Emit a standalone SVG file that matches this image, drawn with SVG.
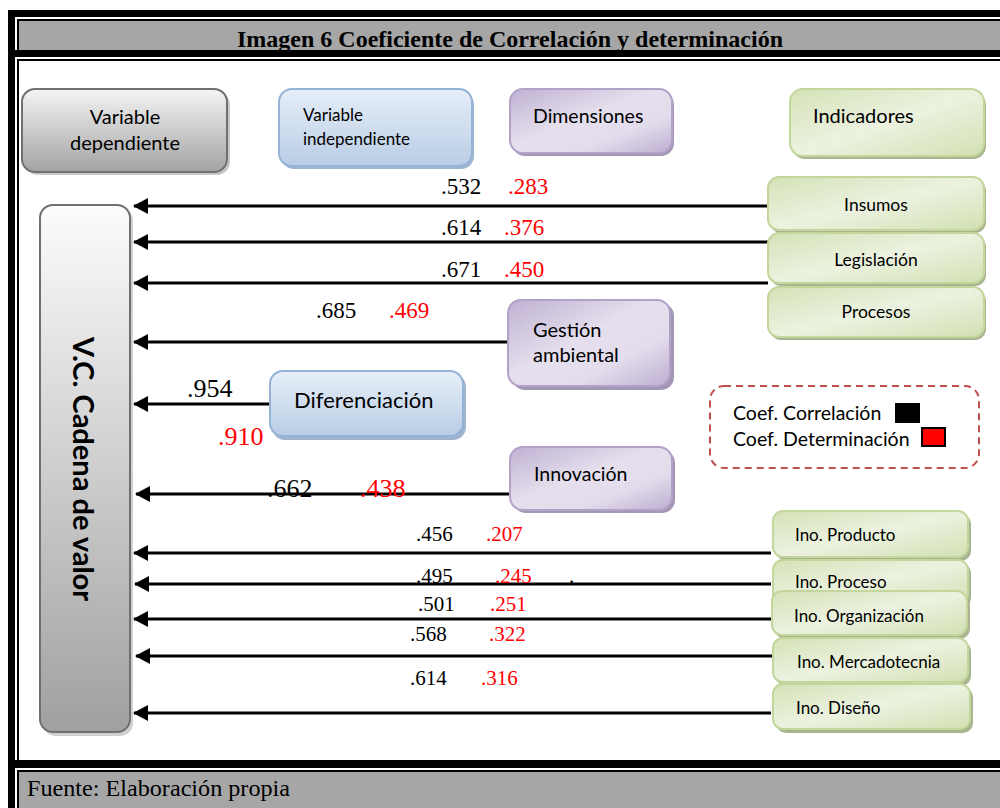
<svg xmlns="http://www.w3.org/2000/svg" width="1000" height="808" viewBox="0 0 1000 808">
<defs>
<linearGradient id="gGray" x1="0" y1="0" x2="0" y2="1"><stop offset="0" stop-color="#f4f4f4"/><stop offset="1" stop-color="#a3a3a3"/></linearGradient>
<linearGradient id="gGrayV" x1="0" y1="0" x2="0" y2="1"><stop offset="0" stop-color="#fcfcfc"/><stop offset="1" stop-color="#a0a0a0"/></linearGradient>
<linearGradient id="gBlue" x1="0" y1="0" x2="0" y2="1"><stop offset="0" stop-color="#e6eef8"/><stop offset="1" stop-color="#b9cde5"/></linearGradient>
<linearGradient id="gPurple" x1="0" y1="0" x2="1" y2="1"><stop offset="0" stop-color="#bfb1d3"/><stop offset="0.45" stop-color="#e5dfed"/><stop offset="0.7" stop-color="#e3dcec"/><stop offset="1" stop-color="#bcaed1"/></linearGradient>
<linearGradient id="gGreen" x1="0" y1="0" x2="1" y2="1"><stop offset="0" stop-color="#d4e2b6"/><stop offset="0.5" stop-color="#ecf2e0"/><stop offset="1" stop-color="#d2e0b2"/></linearGradient>
<marker id="arr" markerWidth="15" markerHeight="16" refX="14" refY="8" orient="auto" markerUnits="userSpaceOnUse" viewBox="0 0 15 16">
<path d="M0,0 L15,8 L0,16 Z" fill="#000"/>
</marker>
</defs>
<style>
.lbl{font-family:Lato,"Open Sans",sans-serif;fill:#000}
.num{font-family:"Liberation Serif","Times New Roman",serif;fill:#000}
.red{fill:#ff0000}
.conn line{stroke:#000;stroke-width:3}
</style>
<rect width="1000" height="808" fill="#fff"/>
<g id="frame">
<rect x="8" y="10" width="1000" height="800" fill="#000"/>
<rect x="15" y="17" width="990" height="800" fill="#fff"/>
<rect x="17" y="19" width="990" height="31" fill="#000"/>
<rect x="19" y="21" width="990" height="29" fill="#a6a6a6"/>
<rect x="15" y="50" width="990" height="7" fill="#000"/>
<rect x="17" y="59" width="990" height="701" fill="#000"/>
<rect x="19" y="61" width="990" height="699" fill="#fff"/>
<rect x="15" y="760" width="990" height="8" fill="#000"/>
<rect x="17" y="770" width="990" height="40" fill="#000"/>
<rect x="19" y="772" width="990" height="40" fill="#a6a6a6"/>
<text x="237" y="47" font-family="Liberation Serif,serif" font-weight="bold" font-size="24" textLength="546" lengthAdjust="spacingAndGlyphs">Imagen 6 Coeficiente de Correlación y determinación</text>
<text x="27" y="796" font-family="Liberation Serif,serif" font-size="23" textLength="263" lengthAdjust="spacingAndGlyphs">Fuente: Elaboración propia</text>
</g>

<g id="n-vardep">
<rect x="25" y="92" width="205" height="83" rx="13" fill="#c8c8c8"/>
<rect x="22" y="89" width="205" height="83" rx="13" fill="url(#gGray)" stroke="#707070" stroke-width="2"/>
<text class="lbl" x="125" y="124" text-anchor="middle" font-size="20">Variable</text>
<text class="lbl" x="125" y="150" text-anchor="middle" font-size="20">dependiente</text>
</g>
<g id="n-varindep">
<rect x="281" y="92" width="193" height="77" rx="13" fill="#9fb4ce"/>
<rect x="279" y="89" width="193" height="77" rx="13" fill="url(#gBlue)" stroke="#95b3d7" stroke-width="2"/>
<text class="lbl" x="303" y="121" font-size="17">Variable</text>
<text class="lbl" x="303" y="145" font-size="17">independiente</text>
</g>
<g id="n-dimensiones">
<rect x="512" y="92" width="162" height="64" rx="13" fill="#a397b5"/>
<rect x="510" y="89" width="162" height="64" rx="13" fill="url(#gPurple)" stroke="#b3a2c7" stroke-width="2"/>
<text class="lbl" x="533" y="123" font-size="19.5">Dimensiones</text>
</g>
<g id="n-indicadores">
<rect x="792" y="92" width="194" height="67" rx="13" fill="#a9b591"/>
<rect x="790" y="89" width="194" height="67" rx="13" fill="url(#gGreen)" stroke="#c3d69b" stroke-width="2"/>
<text class="lbl" x="813" y="123" font-size="20">Indicadores</text>
</g>

<g id="n-vc">
<rect x="43" y="208" width="90" height="528" rx="13" fill="#d0d0d0"/>
<rect x="40" y="205" width="90" height="527" rx="13" fill="url(#gGrayV)" stroke="#707070" stroke-width="2"/>
<text class="lbl" transform="translate(73,469) rotate(90)" text-anchor="middle" font-size="29" font-weight="bold">V.C. Cadena de valor</text>
</g>

<g id="conn" class="conn">
<line x1="770" y1="206" x2="134" y2="206" marker-end="url(#arr)"/>
<line x1="773" y1="242" x2="134" y2="242" marker-end="url(#arr)"/>
<line x1="768" y1="283" x2="134" y2="283" marker-end="url(#arr)"/>
<line x1="510" y1="342" x2="134" y2="342" marker-end="url(#arr)"/>
<line x1="272" y1="404" x2="134" y2="404" marker-end="url(#arr)"/>
<line x1="510" y1="494" x2="136" y2="494" marker-end="url(#arr)"/>
<line x1="771" y1="553" x2="134" y2="553" marker-end="url(#arr)"/>
<line x1="771" y1="584" x2="135" y2="584" marker-end="url(#arr)"/>
<line x1="771" y1="619" x2="134" y2="619" marker-end="url(#arr)"/>
<line x1="773" y1="656" x2="136" y2="656" marker-end="url(#arr)"/>
<line x1="771" y1="713" x2="134" y2="713" marker-end="url(#arr)"/>
</g>

<g id="n-insumos">
<rect x="770" y="180" width="216" height="53" rx="11" fill="#a9b591"/>
<rect x="768" y="177" width="216" height="53" rx="11" fill="url(#gGreen)" stroke="#c3d69b" stroke-width="2"/>
<text class="lbl" x="876" y="211" text-anchor="middle" font-size="17.5">Insumos</text>
</g>
<g id="n-legislacion">
<rect x="770" y="236" width="216" height="50" rx="11" fill="#a9b591"/>
<rect x="768" y="233" width="216" height="50" rx="11" fill="url(#gGreen)" stroke="#c3d69b" stroke-width="2"/>
<text class="lbl" x="876" y="266" text-anchor="middle" font-size="17.5">Legislación</text>
</g>
<g id="n-procesos">
<rect x="770" y="290" width="216" height="50" rx="11" fill="#a9b591"/>
<rect x="768" y="287" width="216" height="50" rx="11" fill="url(#gGreen)" stroke="#c3d69b" stroke-width="2"/>
<text class="lbl" x="876" y="318" text-anchor="middle" font-size="17.5">Procesos</text>
</g>

<g id="n-gestion">
<rect x="512" y="303" width="162" height="87" rx="13" fill="#a397b5"/>
<rect x="508" y="300" width="162" height="86" rx="13" fill="url(#gPurple)" stroke="#b3a2c7" stroke-width="2"/>
<text class="lbl" x="533" y="337" font-size="20">Gestión</text>
<text class="lbl" x="533" y="362" font-size="20">ambiental</text>
</g>
<g id="n-diferenciacion">
<rect x="272" y="374" width="194" height="66" rx="13" fill="#9fb4ce"/>
<rect x="270" y="371" width="193" height="65" rx="13" fill="url(#gBlue)" stroke="#95b3d7" stroke-width="2"/>
<text class="lbl" x="294" y="408" font-size="22">Diferenciación</text>
</g>
<g id="n-innovacion">
<rect x="513" y="450" width="162" height="63" rx="13" fill="#a397b5"/>
<rect x="510" y="447" width="162" height="63" rx="13" fill="url(#gPurple)" stroke="#b3a2c7" stroke-width="2"/>
<text class="lbl" x="534" y="481" font-size="19.5">Innovación</text>
</g>

<g id="legend">
<rect x="710" y="386" width="269" height="82" rx="14" fill="none" stroke="#c0504d" stroke-width="2" stroke-dasharray="7,5"/>
<text class="lbl" x="733" y="420" font-size="19.5">Coef. Correlación</text>
<rect x="895" y="403" width="25" height="20" fill="#000"/>
<text class="lbl" x="733" y="446" font-size="19.5">Coef. Determinación</text>
<rect x="922" y="428" width="23" height="18" fill="#ff0000" stroke="#000" stroke-width="2"/>
</g>

<g id="n-ino-producto">
<rect x="776" y="514" width="195" height="47" rx="10" fill="#a9b591"/>
<rect x="773" y="511" width="195" height="46" rx="10" fill="url(#gGreen)" stroke="#c3d69b" stroke-width="2"/>
<text class="lbl" x="795" y="541" font-size="17">Ino. Producto</text>
</g>
<g id="n-ino-proceso">
<rect x="776" y="563" width="195" height="45" rx="10" fill="#a9b591"/>
<rect x="773" y="560" width="195" height="44" rx="10" fill="url(#gGreen)" stroke="#c3d69b" stroke-width="2"/>
<text class="lbl" x="795" y="588" font-size="17">Ino. Proceso</text>
</g>
<g id="n-ino-organizacion">
<rect x="775" y="594" width="195" height="45" rx="10" fill="#a9b591"/>
<rect x="772" y="591" width="195" height="44" rx="10" fill="url(#gGreen)" stroke="#c3d69b" stroke-width="2"/>
<text class="lbl" x="794" y="622" font-size="17">Ino. Organización</text>
</g>
<g id="n-ino-mercadotecnia">
<rect x="776" y="641" width="195" height="45" rx="10" fill="#a9b591"/>
<rect x="773" y="638" width="195" height="44" rx="10" fill="url(#gGreen)" stroke="#c3d69b" stroke-width="2"/>
<text class="lbl" x="797" y="668" font-size="17">Ino. Mercadotecnia</text>
</g>
<g id="n-ino-diseno">
<rect x="776" y="687" width="197" height="46" rx="10" fill="#a9b591"/>
<rect x="773" y="684" width="197" height="45" rx="10" fill="url(#gGreen)" stroke="#c3d69b" stroke-width="2"/>
<text class="lbl" x="796" y="714" font-size="17">Ino. Diseño</text>
</g>

<g id="values">
<text class="num" x="441" y="194" font-size="23">.532</text><text class="num red" x="508" y="194" font-size="23">.283</text>
<text class="num" x="441" y="235" font-size="23">.614</text><text class="num red" x="504" y="235" font-size="23">.376</text>
<text class="num" x="441" y="277" font-size="23">.671</text><text class="num red" x="504" y="277" font-size="23">.450</text>
<text class="num" x="316" y="318" font-size="23">.685</text><text class="num red" x="389" y="318" font-size="23">.469</text>
<text class="num" x="187" y="397" font-size="26">.954</text>
<text class="num red" x="218" y="445" font-size="26">.910</text>
<text class="num" x="267" y="497" font-size="26">.662</text><text class="num red" x="360" y="497" font-size="26">.438</text>
<text class="num" x="416" y="541" font-size="21">.456</text><text class="num red" x="486" y="541" font-size="21">.207</text>
<text class="num" x="416" y="583" font-size="21">.495</text><text class="num red" x="495" y="583" font-size="21">.245</text><text class="num" x="569" y="583" font-size="21">.</text>
<text class="num" x="418" y="611" font-size="21">.501</text><text class="num red" x="490" y="611" font-size="21">.251</text>
<text class="num" x="410" y="641" font-size="21">.568</text><text class="num red" x="489" y="641" font-size="21">.322</text>
<text class="num" x="410" y="685" font-size="21">.614</text><text class="num red" x="481" y="685" font-size="21">.316</text>
</g>
</svg>
